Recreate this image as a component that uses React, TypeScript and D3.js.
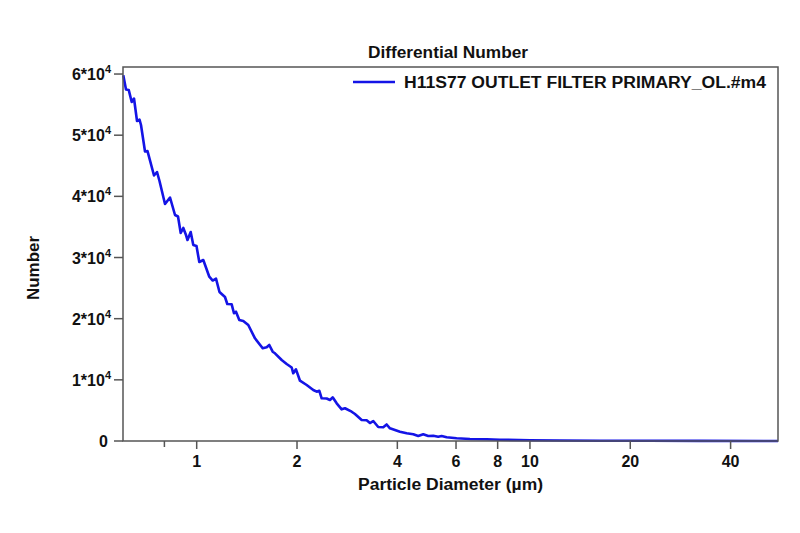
import React from "react";
import * as d3 from "d3";

const diameters: number[] = [
  0.6022, 0.6136, 0.6252, 0.6383, 0.6485, 0.6621, 0.6736, 0.6806, 0.6997, 0.7119,
  0.7446, 0.7602, 0.7734, 0.8034, 0.8317, 0.8609, 0.8789, 0.8954, 0.9116, 0.9288,
  0.9384, 0.9594, 0.9768, 0.9986, 1.0181, 1.0467, 1.0909, 1.117, 1.1427, 1.1706,
  1.2159, 1.2354, 1.2735, 1.2939, 1.3119, 1.3421, 1.3797, 1.4282, 1.4959, 1.5776,
  1.6218, 1.6512, 1.6904, 1.7175, 1.7989, 1.8621, 1.9275, 1.949, 1.9857, 2.0413,
  2.138, 2.2377, 2.2909, 2.3324, 2.3714, 2.4547, 2.5113, 2.5586, 2.6303, 2.7227,
  2.7855, 2.9174, 2.9846, 3.1261, 3.2359, 3.3105, 3.3868, 3.5057, 3.6289, 3.7154,
  3.801, 3.9347, 4.0731, 4.2658, 4.4648, 4.6216, 4.784, 4.9521, 5.1262, 5.3063,
  5.4325, 5.6234, 6.0256, 6.6053, 7.4131, 8.1264, 10, 12.3, 16.2, 22.9, 32.4, 55.5,
];

const counts: number[] = [
  59800, 57470, 57400, 55430, 56000, 52320, 52560, 51670, 47330, 47400,
  43410, 43980, 42510, 38750, 39810, 36950, 36710, 34010, 34830, 33680,
  32860, 34170, 32050, 31880, 29270, 29590, 26860, 26240, 26540, 24360,
  23540, 22400, 22350, 20880, 21140, 19780, 19620, 18970, 16790, 15160,
  15320, 15700, 14600, 14340, 13240, 12590, 12020, 11070, 11720, 9860,
  9160, 8340, 8060, 8220, 6980, 6950, 6700, 7140, 6160, 5180,
  5350, 4790, 4410, 3430, 3400, 2940, 3270, 2290, 2240, 2700,
  2080, 1800, 1520, 1260, 1100, 820, 1100, 820, 870, 700,
  820, 600, 440, 330, 280, 210, 130, 80, 50, 30, 15, 5,
];

const xTickValues: number[] = [0.8, 1, 2, 4, 6, 8, 10, 20, 40];
const xTickLabels: string[] = ["", "1", "2", "4", "6", "8", "10", "20", "40"];
const yTickValues: number[] = [0, 10000, 20000, 30000, 40000, 50000, 60000];
const yTickMantissa: string[] = ["0", "1", "2", "3", "4", "5", "6"];

const title = "Differential Number";
const seriesName = "H11S77 OUTLET FILTER PRIMARY_OL.#m4";
const xTitle = "Particle Diameter (µm)";
const yTitle = "Number";

const W = 800;
const H = 533;
const left = 123;
const right = 778;
const top = 67;
const bottom = 441;
const FONT = "'Liberation Sans', Arial, Helvetica, sans-serif";
const LINE = "#1414e6";
const AXIS = "#555555";
const TXT = "#111";

export default function App() {
  const x = d3.scaleLog().domain([0.601, 55.5]).range([left, right]);
  const y = d3.scaleLinear().domain([0, 61150]).range([bottom, top]);
  const data = diameters.map((d, i) => [d, counts[i]] as [number, number]);
  const line = d3
    .line<[number, number]>()
    .x((d) => x(d[0]))
    .y((d) => y(d[1]));

  return (
    <svg
      width={W}
      height={H}
      style={{ position: "absolute", left: 0, top: 0, background: "#fff" }}
      fontFamily={FONT}
    >
      <rect x={0} y={0} width={W} height={H} fill="#fff" />
      <text
        x={368}
        y={58}
        fontSize={16}
        fontWeight="bold"
        fill={TXT}
        textLength={160}
        lengthAdjust="spacingAndGlyphs"
      >
        {title}
      </text>
      <path d={line(data) || ""} fill="none" stroke={LINE} strokeWidth={2.6} strokeLinejoin="round" />
      <rect
        x={left}
        y={top}
        width={right - left}
        height={bottom - top}
        fill="none"
        stroke={AXIS}
        strokeWidth={1.5}
      />
      {xTickValues.map((v, i) => (
        <g key={"xt" + i}>
          <line
            x1={x(v)}
            x2={x(v)}
            y1={bottom}
            y2={bottom + (xTickLabels[i] ? 8 : 6)}
            stroke={AXIS}
            strokeWidth={1.5}
          />
          {xTickLabels[i] && (
            <text x={x(v)} y={467} textAnchor="middle" fontSize={16} fontWeight="bold" fill={TXT}>
              {xTickLabels[i]}
            </text>
          )}
        </g>
      ))}
      {yTickValues.map((v, i) => (
        <g key={"yt" + i}>
          <line x1={left - 9} x2={left} y1={y(v)} y2={y(v)} stroke={AXIS} strokeWidth={1.5} />
          {v === 0 ? (
            <text x={108} y={y(v) + 6} textAnchor="end" fontSize={16} fontWeight="bold" fill={TXT}>
              0
            </text>
          ) : (
            <text x={111} y={y(v) + 6} textAnchor="end" fontSize={16} fontWeight="bold" fill={TXT}>
              {yTickMantissa[i] + "*10"}
              <tspan fontSize={11} dy={-7}>
                4
              </tspan>
            </text>
          )}
        </g>
      ))}
      <line x1={353} x2={395} y1={82} y2={82} stroke={LINE} strokeWidth={2.6} />
      <text
        x={404}
        y={88}
        fontSize={16}
        fontWeight="bold"
        fill={TXT}
        textLength={362}
        lengthAdjust="spacingAndGlyphs"
      >
        {seriesName}
      </text>
      <text
        x={358}
        y={490}
        fontSize={16}
        fontWeight="bold"
        fill={TXT}
        textLength={185}
        lengthAdjust="spacingAndGlyphs"
      >
        {xTitle}
      </text>
      <text
        transform="translate(39,300) rotate(-90)"
        fontSize={16}
        fontWeight="bold"
        fill={TXT}
        textLength={64}
        lengthAdjust="spacingAndGlyphs"
      >
        {yTitle}
      </text>
    </svg>
  );
}
